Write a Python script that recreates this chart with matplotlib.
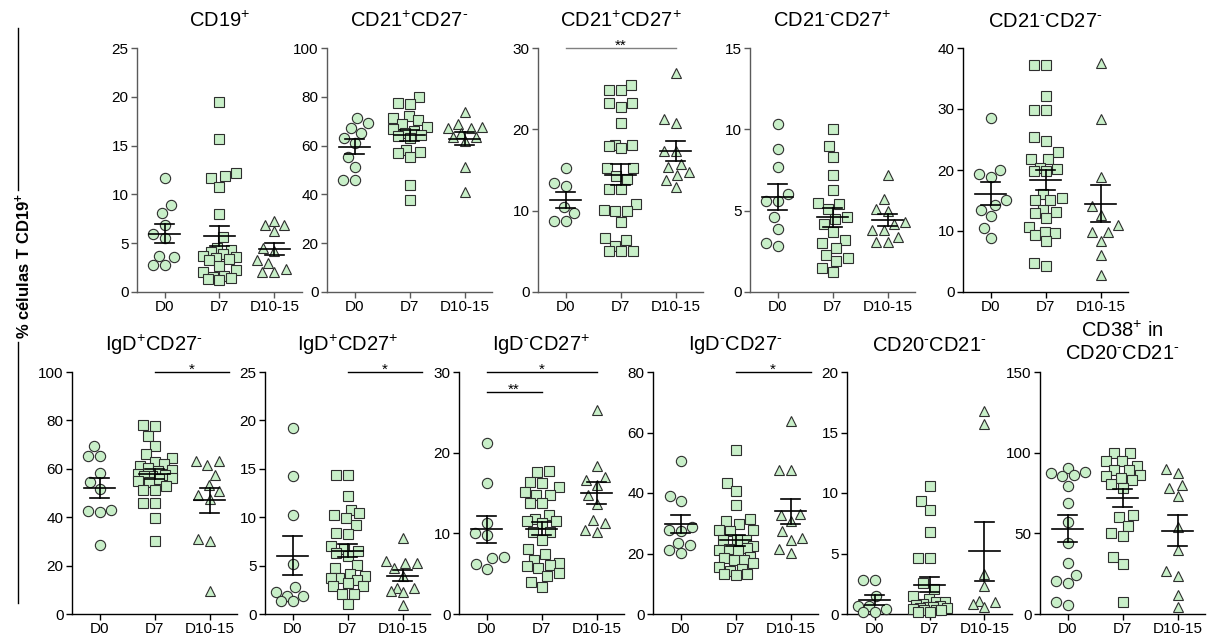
import numpy as np
import matplotlib
matplotlib.use("Agg")
import matplotlib.pyplot as plt
from matplotlib.lines import Line2D

plt.rcParams['font.family'] = ['Liberation Sans', 'DejaVu Sans']
plt.rcParams['mathtext.fontset'] = 'custom'
plt.rcParams['mathtext.rm'] = 'Liberation Sans'
plt.rcParams['mathtext.bf'] = 'Liberation Sans:bold'
plt.rcParams['mathtext.it'] = 'Liberation Sans:italic'

groups = ['D0', 'D7', 'D10-15']

# values per panel: [D0, D7, D10-15]
cd19 = [
    [11.7, 8.9, 8.1, 6.9, 5.9, 5.5, 3.7, 3.6, 2.8, 2.8],
    [19.5, 15.7, 12.2, 11.9, 11.7, 10.8, 8.0, 5.6, 4.5, 4.3, 4.1, 3.9, 3.7, 3.6, 3.5,
     3.4, 3.3, 2.7, 2.3, 2.0, 1.6, 1.5, 1.4, 1.3, 1.2],
    [7.3, 6.9, 6.9, 6.2, 4.5, 4.2, 3.3, 3.0, 2.4, 2.0, 2.0],
]
cd21p_cd27n = [
    [71.4, 69.2, 67.2, 65.1, 63.2, 61.0, 55.4, 51.3, 46.1, 46.1],
    [80.0, 77.5, 77.0, 72.0, 71.5, 70.5, 69.0, 67.5, 67.0, 66.0, 65.0, 64.5, 64.0, 63.0,
     58.0, 57.5, 57.0, 55.5, 44.0, 37.5],
    [73.8, 69.0, 67.6, 67.3, 67.2, 65.1, 63.4, 63.4, 62.0, 51.4, 41.0],
]
cd21p_cd27p = [
    [15.3, 13.4, 13.0, 10.4, 9.7, 8.7, 8.7],
    [25.4, 24.8, 24.8, 23.2, 23.2, 22.8, 20.8, 18.1, 18.1, 17.9, 17.7, 15.3, 15.2, 14.3,
     13.9, 12.7, 12.7, 10.8, 10.1, 9.9, 9.9, 8.6, 6.6, 6.4, 5.7, 5.1, 5.1, 5.1],
    [26.9, 21.3, 20.8, 17.3, 17.3, 15.7, 15.4, 14.7, 14.4, 13.8, 12.9],
]
cd21n_cd27p = [
    [10.3, 8.8, 7.7, 6.0, 5.6, 5.6, 4.6, 3.9, 3.0, 2.8],
    [10.0, 9.0, 8.3, 7.2, 6.3, 5.5, 5.4, 5.1, 4.6, 4.5, 4.2, 3.7, 3.2, 3.0, 2.7, 2.3,
     2.1, 1.9, 1.5, 1.2],
    [7.2, 5.7, 5.1, 5.0, 4.3, 4.2, 3.8, 3.8, 3.4, 3.1, 3.1],
]
cd21n_cd27n = [
    [28.6, 20.0, 19.3, 18.9, 15.1, 14.2, 13.5, 12.4, 10.5, 8.8],
    [37.2, 37.2, 32.1, 29.8, 29.8, 25.4, 24.7, 22.9, 21.8, 21.8, 20.4, 20.1, 19.8, 19.8,
     16.0, 15.4, 15.0, 15.0, 13.5, 13.1, 13.0, 12.2, 10.7, 9.9, 9.7, 9.4, 8.4, 4.7, 4.3],
    [37.5, 28.3, 18.8, 14.1, 12.7, 11.0, 9.9, 9.8, 8.4, 6.1, 2.8],
]
igdp_cd27n = [
    [69.6, 65.2, 65.2, 58.3, 54.5, 51.7, 42.8, 42.4, 42.0, 28.5],
    [78.1, 77.8, 73.7, 69.6, 66.3, 64.5, 62.7, 62.1, 61.3, 60.5, 59.6, 59.0, 58.0, 57.5,
     56.9, 56.9, 56.2, 55.8, 54.8, 54.4, 52.8, 51.1, 51.1, 45.9, 45.9, 39.7, 30.0],
    [63.1, 63.1, 61.4, 57.6, 53.4, 50.7, 49.3, 47.5, 31.0, 30.0, 9.4],
]
igdp_cd27p = [
    [19.2, 14.3, 10.2, 5.2, 2.8, 2.3, 1.9, 1.9, 1.3, 1.3],
    [14.4, 14.4, 12.2, 10.7, 10.4, 10.2, 9.9, 9.2, 8.4, 8.3, 7.0, 6.7, 6.5, 6.3, 6.0,
     5.1, 4.8, 4.1, 3.9, 3.7, 3.7, 3.5, 3.2, 2.9, 2.9, 2.1, 2.1, 1.0],
    [7.85, 5.5, 5.3, 5.3, 4.75, 3.9, 2.7, 2.7, 2.4, 2.3, 0.9],
]
igdn_cd27p = [
    [21.2, 16.2, 11.3, 10.0, 9.8, 7.1, 6.9, 6.2, 5.6],
    [17.7, 17.6, 16.4, 16.2, 15.7, 15.1, 14.8, 14.8, 13.8, 13.8, 12.3, 11.8, 11.5, 11.5,
     11.3, 10.2, 10.2, 9.2, 8.0, 7.4, 6.7, 6.3, 6.1, 5.9, 5.7, 5.1, 4.7, 4.0, 3.4],
    [25.3, 18.4, 17.0, 16.6, 16.0, 14.7, 13.6, 11.7, 11.3, 10.4, 10.2],
]
igdn_cd27n = [
    [50.5, 38.9, 37.2, 28.6, 27.9, 27.3, 23.5, 22.7, 21.3, 20.2],
    [54.1, 43.3, 40.6, 36.1, 31.4, 30.6, 29.9, 27.9, 27.7, 27.3, 24.6, 24.6, 24.6, 22.5,
     21.8, 21.5, 21.3, 20.7, 19.0, 18.5, 18.0, 17.7, 16.9, 15.5, 14.9, 14.1, 13.3, 13.3, 13.0],
    [63.7, 47.7, 47.5, 33.1, 32.8, 30.6, 27.3, 25.1, 24.4, 21.5, 20.2],
]
cd20n_cd21n = [
    [2.8, 2.8, 1.5, 0.7, 0.7, 0.4, 0.15, 0.15],
    [10.6, 9.3, 8.6, 6.8, 4.6, 4.6, 2.6, 2.1, 1.5, 1.2, 1.0, 1.0, 0.85, 0.75, 0.7, 0.6,
     0.6, 0.5, 0.5, 0.4, 0.35, 0.35, 0.3, 0.2, 0.2],
    [16.8, 15.7, 3.3, 2.3, 1.1, 1.0, 0.8, 0.6],
]
cd38_in_cd20n = [
    [90.5, 87.8, 87.4, 86.4, 85.7, 79.1, 68.8, 56.8, 44.0, 31.6, 24.4, 20.2, 19.2, 7.2, 5.8],
    [100.0, 100.0, 94.6, 94.6, 92.0, 89.5, 89.0, 86.4, 85.3, 84.3, 82.9, 80.8, 78.1, 61.6,
     60.1, 54.8, 50.2, 48.1, 35.3, 31.0, 7.2],
    [89.9, 87.4, 79.8, 78.1, 72.9, 53.9, 39.9, 26.4, 23.8, 12.0, 4.3],
]

P = '$^{+}$'
M = '$^{\\text{-}}$'
titles_top = ['CD19' + P, 'CD21' + P + 'CD27' + M, 'CD21' + P + 'CD27' + P,
              'CD21' + M + 'CD27' + P, 'CD21' + M + 'CD27' + M]
titles_bottom = ['IgD' + P + 'CD27' + M, 'IgD' + P + 'CD27' + P, 'IgD' + M + 'CD27' + P,
                 'IgD' + M + 'CD27' + M, 'CD20' + M + 'CD21' + M,
                 'CD38' + P + ' in\nCD20' + M + 'CD21' + M]

# significance: (from group, to group, height, label)
sig_cd21p_cd27p = [(0, 2, 30, '**')]
sig_igdp_cd27n = [(1, 2.35, 100, '*')]
sig_igdp_cd27p = [(1, 2.35, 25, '*')]
sig_igdn_cd27p = [(0, 2, 30, '*'), (0, 1, 27.5, '**')]
sig_igdn_cd27n = [(1, 2.37, 80, '*')]

W, H = 1207, 638
FACE = '#c8efc8'
EDGE = '#2e2e2e'
MARKERS = ['o', 's', '^']


def swarm_offsets(vals, ppu_y, d=12.0, ppu_x=55.0, maxw=17.0):
    # simple beeswarm in pixel space, capped width (points may overlap)
    vals = np.asarray(vals, float)
    ys = vals * ppu_y
    xs = np.zeros(len(vals))
    placed = []
    for i in np.argsort(vals):
        y = ys[i]
        near = [(px, py) for px, py in placed if abs(py - y) < d]
        cands = [0.0]
        for px, py in near:
            dx = np.sqrt(d * d - (py - y) ** 2)
            cands += [px - dx, px + dx]
        cands = sorted(cands, key=abs)
        best = None
        for c in cands:
            if abs(c) > maxw:
                break
            if all((c - px) ** 2 + (y - py) ** 2 >= d * d - 1e-6 for px, py in near):
                best = c
                break
        if best is None:
            grid = np.linspace(-maxw, maxw, 35)
            gaps = [min((g - px) ** 2 + (y - py) ** 2 for px, py in near) for g in grid]
            best = grid[int(np.argmax(gaps))]
        placed.append((best, y))
        xs[i] = best / ppu_x
    return xs


def draw_panel(left, top_px, bot_px, data, title, ymax, ystep, sigs=(), axcol='black',
               sigcol='black', title_y=1.11):
    ax = fig.add_axes([left / W, 1 - bot_px / H, 165 / W, (bot_px - top_px) / H])
    ppu_y = (bot_px - top_px) / ymax
    for i, vals in enumerate(data):
        vals = np.asarray(vals, float)
        offs = swarm_offsets(vals, ppu_y)
        ax.plot(i + offs, vals, ls='none', marker=MARKERS[i], ms=7.4, mfc=FACE, mec=EDGE,
                mew=0.8, clip_on=False, zorder=3)
        m = vals.mean()
        se = vals.std(ddof=1) / np.sqrt(len(vals))
        ax.plot([i - 0.29, i + 0.29], [m, m], color='black', lw=1.2, zorder=4)
        ax.plot([i - 0.18, i + 0.18], [m - se, m - se], color='black', lw=1.2, zorder=4)
        ax.plot([i - 0.18, i + 0.18], [m + se, m + se], color='black', lw=1.2, zorder=4)
        ax.plot([i, i], [m - se, m + se], color='black', lw=1.2, zorder=4)

    for x1, x2, y, lab in sigs:
        ax.plot([x1, x2], [y, y], color=sigcol, lw=1.0, clip_on=False, zorder=5)
        ax.annotate(lab, xy=((x1 + x2) / 2, y), xytext=(0, -1.5), textcoords='offset points',
                    ha='center', va='baseline', fontsize=11, color='black')

    ax.set_xlim(-0.5, 2.5)
    ax.set_ylim(0, ymax)
    ax.set_xticks(range(3))
    ax.set_xticklabels(groups)
    ax.set_yticks(np.arange(0, ymax + ystep / 2, ystep))
    for s in ['top', 'right']:
        ax.spines[s].set_visible(False)
    for s in ['left', 'bottom']:
        ax.spines[s].set_color(axcol)
        ax.spines[s].set_linewidth(1.0)
    ax.tick_params(direction='out', length=4, width=1, color=axcol, labelsize=11,
                   labelcolor='black', pad=2)
    ax.patch.set_alpha(0)
    ax.text(0.5, title_y, title, transform=ax.transAxes, ha='center', va='center',
            fontsize=14.5)
    return ax


fig = plt.figure(figsize=(W / 100, H / 100), dpi=100)
fig.patch.set_facecolor('white')

gray = '#5a5a5a'
draw_panel(137, 48, 292, cd19, titles_top[0], 25, 5, axcol=gray)
draw_panel(327, 48, 292, cd21p_cd27n, titles_top[1], 100, 20, axcol=gray)
draw_panel(538, 48, 292, cd21p_cd27p, titles_top[2], 30, 10, sig_cd21p_cd27p,
           axcol=gray, sigcol='#808080')
draw_panel(750, 48, 292, cd21n_cd27p, titles_top[3], 15, 5, axcol=gray)
draw_panel(963, 48, 292, cd21n_cd27n, titles_top[4], 40, 10)

draw_panel(72, 372, 614, igdp_cd27n, titles_bottom[0], 100, 20, sig_igdp_cd27n)
draw_panel(265, 372, 614, igdp_cd27p, titles_bottom[1], 25, 5, sig_igdp_cd27p)
draw_panel(459, 372, 614, igdn_cd27p, titles_bottom[2], 30, 10, sig_igdn_cd27p)
draw_panel(653, 372, 614, igdn_cd27n, titles_bottom[3], 80, 20, sig_igdn_cd27n)
draw_panel(847, 372, 614, cd20n_cd21n, titles_bottom[4], 20, 5)
draw_panel(1040, 372, 614, cd38_in_cd20n, titles_bottom[5], 150, 50, title_y=1.125)

# y label with the bracket lines
fig.text(23 / W, 1 - 266 / H, '% células T CD19$^{\\mathbf{+}}$', rotation=90,
         fontsize=12, fontweight='bold', ha='center', va='center')
for y1, y2 in [(28, 190), (342, 603)]:
    fig.add_artist(Line2D([17.5 / W, 17.5 / W], [1 - y1 / H, 1 - y2 / H],
                          transform=fig.transFigure, color='black', lw=1))

fig.savefig('out.png', dpi=100, facecolor='white')
